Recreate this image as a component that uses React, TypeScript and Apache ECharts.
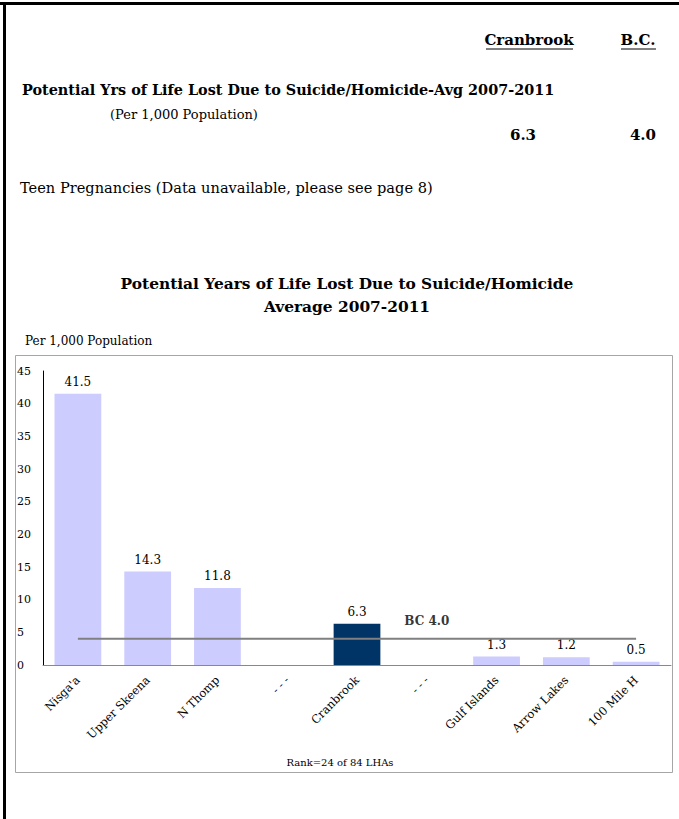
import React, { useEffect, useRef } from "react";
import * as echarts from "echarts";

const categories = ["Nisga'a", "Upper Skeena", "N Thomp", "- - -", "Cranbrook", "- - -", "Gulf Islands", "Arrow Lakes", "100 Mile H"];
const values: (number | null)[] = [41.5, 14.3, 11.8, null, 6.3, null, 1.3, 1.2, 0.5];
const highlightIndex = 4;
const bcValue = 4.0;
const bcLabelIndex = 5;
const yTicks = { min: 0, max: 45, interval: 5 };
const localValue = "6.3";
const bcValueText = "4.0";

const FONT = "'DejaVu Serif', serif";

export default function App() {
  const ref = useRef<HTMLDivElement>(null);
  useEffect(() => {
    const chart = echarts.init(ref.current!, null, { renderer: "svg" });
    const lightBar = "#CCCCFF";
    const darkBar = "#003366";
    chart.setOption({
      animation: false,
      backgroundColor: "#ffffff",
      textStyle: { fontFamily: FONT },
      grid: { left: 43, top: 371, right: 8, bottom: 154, containLabel: false },
      xAxis: {
        type: "category",
        data: categories,
        axisLine: { lineStyle: { color: "#888888", width: 1 } },
        axisTick: { show: false },
        axisLabel: { rotate: 45, color: "#000", fontSize: 11.5, fontFamily: FONT, margin: 13, interval: 0 },
      },
      yAxis: {
        type: "value",
        min: yTicks.min,
        max: yTicks.max,
        interval: yTicks.interval,
        splitLine: { show: false },
        axisLine: { show: true, lineStyle: { color: "#000", width: 1 } },
        axisTick: { show: false },
        axisLabel: { color: "#000", fontSize: 11, fontFamily: FONT, align: "left", margin: 26 },
      },
      series: [
        {
          type: "bar",
          data: values.map((v, i) => ({
            value: v,
            itemStyle: { color: i === highlightIndex ? darkBar : lightBar },
          })),
          barCategoryGap: "33%",
          label: {
            show: true,
            position: "top",
            distance: 6,
            color: "#000",
            fontSize: 12,
            fontFamily: FONT,
            formatter: (p: any) => (p.value == null ? "" : Number(p.value).toFixed(1)),
          },
          z: 2,
        },
        {
          type: "line",
          data: categories.map(() => bcValue),
          symbol: "none",
          lineStyle: { color: "#808080", width: 2 },
          z: 5,
        },
        {
          type: "scatter",
          data: [[bcLabelIndex, bcValue]],
          symbolSize: 1,
          itemStyle: { color: "rgba(0,0,0,0)" },
          label: {
            show: true,
            position: "top",
            distance: 11,
            formatter: "BC " + bcValue.toFixed(1),
            color: "#000",
            fontWeight: "bold",
            fontSize: 12,
            fontFamily: FONT,
          },
          z: 6,
        },
      ],
      graphic: [
        { type: "rect", shape: { x: 0, y: 2, width: 679, height: 3 }, style: { fill: "#000" } },
        { type: "rect", shape: { x: 3, y: 2, width: 3, height: 817 }, style: { fill: "#000" } },
        { type: "rect", shape: { x: 15.5, y: 355.5, width: 657, height: 417 }, style: { fill: "none", stroke: "#A6A6A6", lineWidth: 1 }, z: -1 },
        { type: "text", x: 529, y: 40, style: { text: "Cranbrook", fill: "#000", font: "bold 15px " + FONT, textAlign: "center", textVerticalAlign: "middle" } },
        { type: "line", shape: { x1: 486, y1: 49, x2: 573, y2: 49 }, style: { stroke: "#000", lineWidth: 1 } },
        { type: "text", x: 638, y: 40, style: { text: "B.C.", fill: "#000", font: "bold 15px " + FONT, textAlign: "center", textVerticalAlign: "middle" } },
        { type: "line", shape: { x1: 621, y1: 49, x2: 656, y2: 49 }, style: { stroke: "#000", lineWidth: 1 } },
        { type: "text", x: 22, y: 89, style: { text: "Potential Yrs of Life Lost Due to Suicide/Homicide-Avg 2007-2011", fill: "#000", font: "bold 14.4px " + FONT, textAlign: "left", textVerticalAlign: "middle" } },
        { type: "text", x: 110, y: 114, style: { text: "(Per 1,000 Population)", fill: "#000", font: "13px " + FONT, textAlign: "left", textVerticalAlign: "middle" } },
        { type: "text", x: 523, y: 135, style: { text: localValue, fill: "#000", font: "bold 15px " + FONT, textAlign: "center", textVerticalAlign: "middle" } },
        { type: "text", x: 656, y: 135, style: { text: bcValueText, fill: "#000", font: "bold 15px " + FONT, textAlign: "right", textVerticalAlign: "middle" } },
        { type: "text", x: 20, y: 187, style: { text: "Teen Pregnancies (Data unavailable, please see page 8)", fill: "#000", font: "14.6px " + FONT, textAlign: "left", textVerticalAlign: "middle" } },
        { type: "text", x: 347, y: 284, style: { text: "Potential Years of Life Lost Due to Suicide/Homicide", fill: "#000", font: "bold 15.4px " + FONT, textAlign: "center", textVerticalAlign: "middle" } },
        { type: "text", x: 347, y: 307, style: { text: "Average 2007-2011", fill: "#000", font: "bold 15.4px " + FONT, textAlign: "center", textVerticalAlign: "middle" } },
        { type: "text", x: 25, y: 341, style: { text: "Per 1,000 Population", fill: "#000", font: "12px " + FONT, textAlign: "left", textVerticalAlign: "middle" } },
        { type: "text", x: 340, y: 762, style: { text: "Rank=24 of 84 LHAs", fill: "#000", font: "10px " + FONT, textAlign: "center", textVerticalAlign: "middle" } },
      ],
    });
    return () => chart.dispose();
  }, []);
  return <div ref={ref} style={{ position: "absolute", left: 0, top: 0, width: 679, height: 819 }} />;
}
